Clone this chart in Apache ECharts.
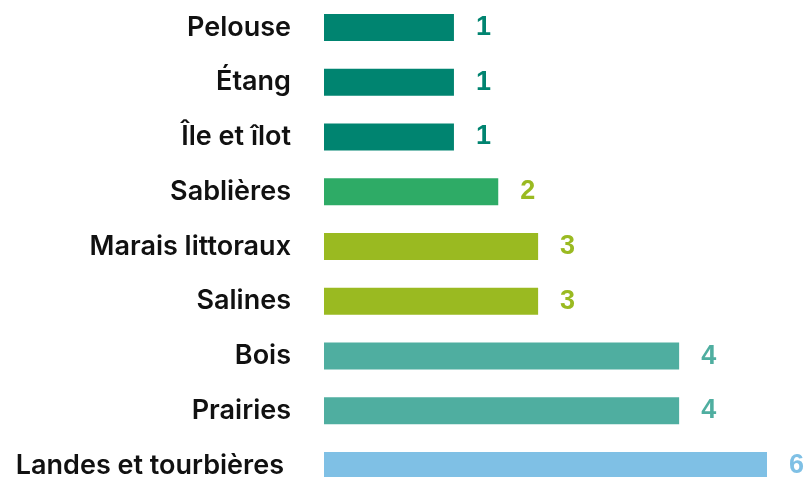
<!DOCTYPE html>
<html lang="fr">
<head>
    <meta charset="UTF-8">
    <title>Milieux</title>
    <script src="https://cdn.jsdelivr.net/npm/echarts@6/dist/echarts.min.js"></script>
    <style>
        html, body { margin: 0; padding: 0; background: #fff; overflow: hidden; }
    </style>
</head>
<body>
<!-- le dernier rang est coupé en bas dans l'original -->
<div id="main" style="width:807px;height:493px"></div>
<script type="text/javascript">
    // catégories (de haut en bas)
    var categories = ['Pelouse', 'Étang', 'Île et îlot', 'Sablières', 'Marais littoraux', 'Salines', 'Bois', 'Prairies', 'Landes et tourbières'];
    // nombre affiché à droite des barres
    var counts = [1, 1, 1, 2, 3, 3, 4, 4, 6];
    // longueur des barres (pas proportionnelle au nombre)
    var barLengths = [1.76, 1.76, 1.76, 2.36, 2.9, 2.9, 4.81, 4.81, 6];
    var barColors = ['#008470', '#008470', '#008470', '#2eab66', '#9aba21', '#9aba21', '#4faea0', '#4faea0', '#7fc0e5'];
    var labelColors = ['#008470', '#008470', '#008470', '#9aba21', '#9aba21', '#9aba21', '#4faea0', '#4faea0', '#7fc0e5'];

    var myChart = echarts.init(document.getElementById('main'));

    var data = barLengths.map(function (v, i) {
        return {
            value: v,
            itemStyle: { color: barColors[i] },
            label: { color: labelColors[i] }
        };
    });

    var option = {
        animation: false,
        grid: {
            left: 324,
            top: 0,
            right: 40,
            bottom: 0
        },
        xAxis: {
            type: 'value',
            min: 0,
            max: 6,
            show: false
        },
        yAxis: {
            type: 'category',
            inverse: true,
            data: categories,
            axisLine: { show: false },
            axisTick: { show: false },
            axisLabel: {
                margin: 33,
                color: '#111',
                fontFamily: 'Inter',
                fontSize: 27,
                fontWeight: 600,
                formatter: function (v) {
                    // le dernier libellé est un peu décalé vers la gauche
                    return v === 'Landes et tourbières' ? '{far|' + v + '}' : v;
                },
                rich: {
                    far: {
                        color: '#111',
                        fontFamily: 'Inter',
                        fontSize: 27,
                        fontWeight: 600,
                        padding: [0, 7, 0, 0]
                    }
                }
            }
        },
        series: [{
            type: 'bar',
            data: data,
            barWidth: 27,
            label: {
                show: true,
                position: 'right',
                distance: 22,
                fontFamily: 'Liberation Sans',
                fontSize: 27,
                fontWeight: 'bold',
                formatter: function (p) {
                    return counts[p.dataIndex];
                }
            }
        }]
    };

    myChart.setOption(option);
</script>
</body>
</html>
